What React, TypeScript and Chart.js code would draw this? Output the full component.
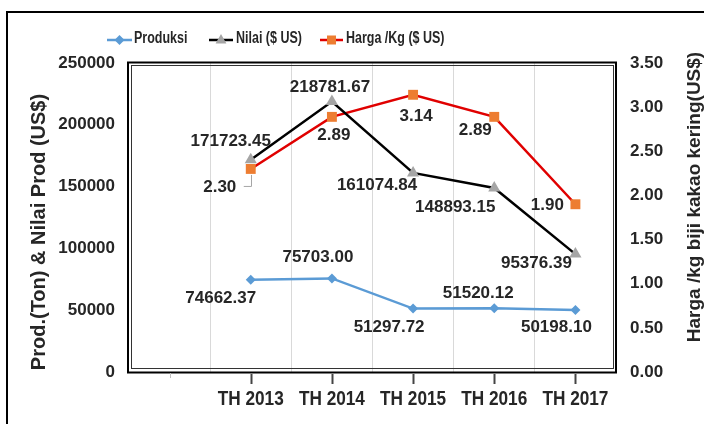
import { useEffect, useRef } from 'react';
import { Chart, registerables } from 'chart.js';

Chart.register(...registerables);

// ---- data ----
const years = ['TH 2013', 'TH 2014', 'TH 2015', 'TH 2016', 'TH 2017'];
const produksi = [74662.37, 75703.0, 51297.72, 51520.12, 50198.1];
const nilai = [171723.45, 218781.67, 161074.84, 148893.15, 95376.39];
const harga = [2.3, 2.89, 3.14, 2.89, 1.9];

const leftMax = 250000;
const leftStep = 50000;
const rightMax = 3.5;
const rightStep = 0.5;

const seriesNames = ['Produksi', 'Nilai ($ US)', 'Harga /Kg ($ US)'];
const leftTitle = 'Prod.(Ton) & Nilai Prod (US$)';
const rightTitle = 'Harga /kg biji kakao kering(US$)';

// ---- label placement (offsets from point, px) ----
const produksiLabelOffsets = [[-30, 19], [-14, -21], [-24, 19], [-16, -15], [-19, 17]];
const nilaiLabelOffsets = [[-20, -18], [-2, -14], [-36, 12], [-39, 19], [-39, 9]];
const hargaLabelOffsets = [[-31, 18], [2, 18], [3, 22], [-19, 13], [-28, 1]];

// ---- styles ----
const BLUE = '#5B9BD5';
const BLACK = '#000000';
const GRAY = '#A5A5A5';
const RED = '#E00000';
const ORANGE = '#ED7D31';
const TEXT = '#262626';
const FONT = "'Liberation Sans', Arial, sans-serif";

function drawMarker(ctx: CanvasRenderingContext2D, kind: string, x: number, y: number, r: number, color: string) {
  ctx.fillStyle = color;
  ctx.beginPath();
  if (kind === 'diamond') {
    ctx.moveTo(x, y - r);
    ctx.lineTo(x + r, y);
    ctx.lineTo(x, y + r);
    ctx.lineTo(x - r, y);
  } else if (kind === 'triangle') {
    ctx.moveTo(x, y - r);
    ctx.lineTo(x + r * 0.9, y + r * 0.6);
    ctx.lineTo(x - r * 0.9, y + r * 0.6);
  } else {
    ctx.rect(x - r, y - r, 2 * r, 2 * r);
  }
  ctx.closePath();
  ctx.fill();
}

function condensedText(ctx: CanvasRenderingContext2D, text: string, x: number, y: number, align: CanvasTextAlign, k: number) {
  ctx.save();
  ctx.translate(x, y);
  ctx.scale(k, 1);
  ctx.textAlign = align;
  ctx.textBaseline = 'middle';
  ctx.fillText(text, 0, 0);
  ctx.restore();
}

const decorPlugin = {
  id: 'decor',
  afterDraw(chart: any) {
    const ctx: CanvasRenderingContext2D = chart.ctx;
    const { left, right, top, bottom } = chart.chartArea;
    ctx.save();

    // outer frame
    ctx.strokeStyle = BLACK;
    ctx.lineWidth = 2;
    ctx.beginPath();
    ctx.moveTo(7, 430);
    ctx.lineTo(7, 12);
    ctx.lineTo(710, 12);
    ctx.stroke();

    // plot double border
    ctx.lineWidth = 2;
    ctx.strokeStyle = BLACK;
    ctx.strokeRect(left - 1, top - 0.5, right - left + 1, bottom - top + 1);
    ctx.lineWidth = 1;
    ctx.strokeStyle = '#333';
    ctx.strokeRect(left + 2.5, top + 2.5, right - left - 5, bottom - top - 6);

    // x tick marks and labels at category centres
    const xs = chart.scales.x;
    const cats = ['', ...years];
    for (let i = 0; i < xs.ticks.length; i++) {
      const cx = xs.getPixelForTick(i);
      const px = Math.round(cx) + 0.5;
      ctx.beginPath();
      if (i === 0) {
        ctx.strokeStyle = '#BFBFBF';
        ctx.lineWidth = 1;
        ctx.moveTo(px, bottom + 1);
        ctx.lineTo(px, bottom + 6);
      } else {
        ctx.strokeStyle = '#444';
        ctx.lineWidth = 2;
        ctx.moveTo(px, bottom + 2);
        ctx.lineTo(px, bottom + 12);
      }
      ctx.stroke();
      ctx.fillStyle = TEXT;
      ctx.font = `bold 21px ${FONT}`;
      condensedText(ctx, cats[i], cx, bottom + 27, 'center', 0.82);
    }

    // legend
    const ly = 40;
    const legendItems = [
      { x0: 107, x1: 132, mk: 'diamond', line: BLUE, fill: BLUE, r: 5, tx: 134 },
      { x0: 209, x1: 233, mk: 'triangle', line: BLACK, fill: GRAY, r: 6, tx: 236 },
      { x0: 320, x1: 343, mk: 'square', line: RED, fill: ORANGE, r: 4.5, tx: 346 },
    ];
    legendItems.forEach((it, i) => {
      ctx.strokeStyle = it.line;
      ctx.lineWidth = 2.5;
      ctx.beginPath();
      ctx.moveTo(it.x0, ly);
      ctx.lineTo(it.x1, ly);
      ctx.stroke();
      drawMarker(ctx, it.mk, (it.x0 + it.x1) / 2, ly, it.r, it.fill);
      ctx.fillStyle = TEXT;
      ctx.font = `bold 16px ${FONT}`;
      condensedText(ctx, seriesNames[i], it.tx, ly - 1, 'left', 0.78);
    });

    // axis titles
    ctx.fillStyle = TEXT;
    ctx.textAlign = 'center';
    ctx.textBaseline = 'middle';
    ctx.save();
    ctx.translate(39, 232);
    ctx.rotate(-Math.PI / 2);
    ctx.font = `bold 20px ${FONT}`;
    ctx.fillText(leftTitle, 0, 0);
    ctx.restore();
    ctx.save();
    ctx.translate(695, 197);
    ctx.rotate(-Math.PI / 2);
    ctx.font = `bold 19px ${FONT}`;
    ctx.fillText(rightTitle, 0, 0);
    ctx.restore();

    // data labels
    ctx.font = `bold 17px ${FONT}`;
    ctx.fillStyle = TEXT;
    ctx.textAlign = 'center';
    ctx.textBaseline = 'middle';
    const sets = [
      { vals: produksi, offs: produksiLabelOffsets },
      { vals: nilai, offs: nilaiLabelOffsets },
      { vals: harga, offs: hargaLabelOffsets },
    ];
    sets.forEach((s, d) => {
      const meta = chart.getDatasetMeta(d);
      s.vals.forEach((v, j) => {
        const pt = meta.data[j + 1];
        if (!pt) return;
        ctx.fillText(v.toFixed(2), pt.x + s.offs[j][0], pt.y + s.offs[j][1]);
      });
    });

    // leader line for first price label
    const hp = chart.getDatasetMeta(2).data[1];
    if (hp) {
      ctx.strokeStyle = '#A6A6A6';
      ctx.lineWidth = 1;
      ctx.beginPath();
      ctx.moveTo(hp.x - 7, hp.y + 17.5);
      ctx.lineTo(Math.round(hp.x) + 0.5, hp.y + 17.5);
      ctx.lineTo(Math.round(hp.x) + 0.5, hp.y + 6);
      ctx.stroke();
    }

    ctx.restore();
  },
};

export default function App() {
  const canvasRef = useRef<HTMLCanvasElement | null>(null);

  useEffect(() => {
    if (!canvasRef.current) return;
    const labels = ['', ...years];
    const chart = new Chart(canvasRef.current, {
      type: 'line',
      data: {
        labels,
        datasets: [
          {
            label: seriesNames[0],
            data: [null, ...produksi],
            borderColor: BLUE,
            backgroundColor: BLUE,
            borderWidth: 2.5,
            pointStyle: 'rectRot',
            pointRadius: 5,
            pointBorderWidth: 0,
            yAxisID: 'y',
          },
          {
            label: seriesNames[1],
            data: [null, ...nilai],
            borderColor: BLACK,
            backgroundColor: GRAY,
            pointBackgroundColor: GRAY,
            pointBorderColor: GRAY,
            borderWidth: 2.5,
            pointStyle: 'triangle',
            pointRadius: 7,
            pointBorderWidth: 0,
            yAxisID: 'y',
          },
          {
            label: seriesNames[2],
            data: [null, ...harga],
            borderColor: RED,
            backgroundColor: ORANGE,
            pointBackgroundColor: ORANGE,
            pointBorderColor: ORANGE,
            borderWidth: 2.5,
            pointStyle: 'rect',
            pointRadius: 7,
            pointBorderWidth: 0,
            yAxisID: 'y1',
          },
        ],
      },
      options: {
        responsive: false,
        animation: false,
        devicePixelRatio: 1,
        layout: { padding: { top: 63, left: 0, right: 0, bottom: 0 } },
        plugins: {
          legend: { display: false },
          tooltip: { enabled: false },
          title: { display: false },
        },
        scales: {
          x: {
            offset: true,
            grid: { display: true, color: '#D9D9D9', lineWidth: 1, drawTicks: false, offset: true },
            border: { display: false },
            ticks: { display: false, autoSkip: false },
            afterFit: (axis: any) => {
              axis.height = 52;
            },
          },
          y: {
            position: 'left',
            min: 0,
            max: leftMax,
            grid: { display: false, drawTicks: false },
            border: { display: false },
            ticks: {
              stepSize: leftStep,
              color: TEXT,
              font: { family: FONT, size: 17, weight: 'bold' },
              padding: 14,
              callback: (v: any) => String(v),
            },
            afterFit: (axis: any) => {
              axis.width = 129;
            },
          },
          y1: {
            position: 'right',
            min: 0,
            max: rightMax,
            grid: { display: false, drawTicks: false },
            border: { display: false },
            ticks: {
              stepSize: rightStep,
              color: TEXT,
              font: { family: FONT, size: 17, weight: 'bold' },
              padding: 14,
              callback: (v: any) => Number(v).toFixed(2),
            },
            afterFit: (axis: any) => {
              axis.width = 88;
            },
          },
        },
      },
      plugins: [decorPlugin],
    });
    return () => chart.destroy();
  }, []);

  return (
    <div style={{ position: 'absolute', left: 0, top: 0, width: 704, height: 424, background: '#fff' }}>
      <canvas ref={canvasRef} width={704} height={424} style={{ display: 'block' }} />
    </div>
  );
}
